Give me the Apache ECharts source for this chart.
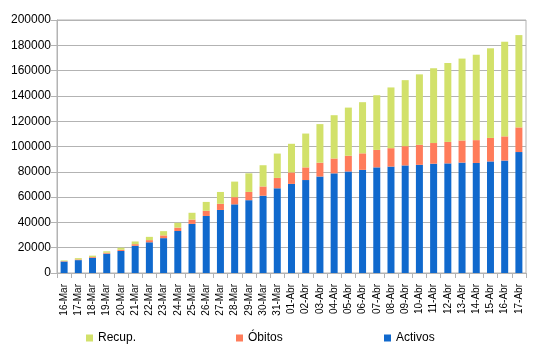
<!DOCTYPE html>
<html>
<head>
<meta charset="utf-8">
<script src="https://cdn.jsdelivr.net/npm/echarts@6/dist/echarts.min.js"></script>
<style>
  html, body { margin: 0; padding: 0; background: #fff; }
  #container { width: 538px; height: 353px; }
</style>
</head>
<body>
<div id="container"></div>
<script>
// categorias (dias)
var dias = ['16-Mar', '17-Mar', '18-Mar', '19-Mar', '20-Mar', '21-Mar', '22-Mar', '23-Mar',
  '24-Mar', '25-Mar', '26-Mar', '27-Mar', '28-Mar', '29-Mar', '30-Mar', '31-Mar',
  '01-Abr', '02-Abr', '03-Abr', '04-Abr', '05-Abr', '06-Abr', '07-Abr', '08-Abr',
  '09-Abr', '10-Abr', '11-Abr', '12-Abr', '13-Abr', '14-Abr', '15-Abr', '16-Abr', '17-Abr']

var activos = [9070, 10187, 12037, 15273, 17390, 21475, 24277, 27552,
  33183, 38809, 45084, 49844, 54273, 57560, 61075, 66969,
  70436, 73492, 76262, 78773, 80261, 81540, 83504, 84114,
  85043, 85511, 86390, 86656, 87280, 86981, 88201, 88889, 95627]

var obitos = [342, 533, 598, 767, 1002, 1326, 1720, 2182,
  2696, 3434, 4089, 4858, 5690, 6528, 7340, 8189,
  9053, 10003, 10935, 11744, 12418, 13055, 13798, 14555,
  15238, 15843, 16353, 16972, 17489, 18056, 18579, 19130, 19478]

var recup = [530, 1028, 1081, 1107, 1588, 2125, 2575, 3355,
  3794, 5367, 7015, 9357, 12285, 14709, 16780, 19259,
  22647, 26743, 30513, 34219, 38080, 40437, 43208, 48021,
  52165, 55668, 59109, 62391, 64727, 67504, 70853, 74797, 72963]

var chart = echarts.init(document.getElementById('container'))

var fonte = 'Liberation Sans, Arial, sans-serif'
var cinza = '#b3b3b3'

function legenda(nome, x) {
  return {
    data: [nome],
    left: x,
    top: 327,
    icon: 'rect',
    itemWidth: 7,
    itemHeight: 7,
    itemGap: 5,
    textStyle: { fontFamily: fonte, fontSize: 12, color: '#000' }
  }
}

chart.setOption({
  backgroundColor: '#fff',
  animation: false,
  grid: {
    left: 57,
    right: 12,
    top: 20,
    bottom: 80,
    show: true,
    borderColor: cinza,
    borderWidth: 1
  },
  legend: [
    legenda('Recup.', 81),
    legenda('Óbitos', 231),
    legenda('Activos', 379)
  ],
  xAxis: {
    type: 'category',
    data: dias,
    axisLine: { lineStyle: { color: cinza } },
    axisTick: { show: true, length: 5, lineStyle: { color: cinza } },
    axisLabel: {
      rotate: 90,
      interval: 0,
      margin: 11,
      fontFamily: fonte,
      fontSize: 10,
      color: '#000'
    }
  },
  yAxis: {
    type: 'value',
    min: 0,
    max: 200000,
    interval: 20000,
    axisLine: { show: true, lineStyle: { color: cinza } },
    axisTick: { show: true, length: 6, lineStyle: { color: cinza } },
    splitLine: { lineStyle: { color: cinza } },
    axisLabel: {
      margin: 6,
      fontFamily: fonte,
      fontSize: 12,
      color: '#000',
      formatter: function (v) { return String(v) }
    }
  },
  series: [
    {
      name: 'Activos',
      type: 'bar',
      stack: 'total',
      barWidth: 7,
      data: activos,
      itemStyle: { color: '#1069cd' }
    },
    {
      name: 'Óbitos',
      type: 'bar',
      stack: 'total',
      barWidth: 7,
      data: obitos,
      itemStyle: { color: '#ff7c5a' }
    },
    {
      name: 'Recup.',
      type: 'bar',
      stack: 'total',
      barWidth: 7,
      data: recup,
      itemStyle: { color: '#d2e16a' }
    }
  ]
})
</script>
</body>
</html>
